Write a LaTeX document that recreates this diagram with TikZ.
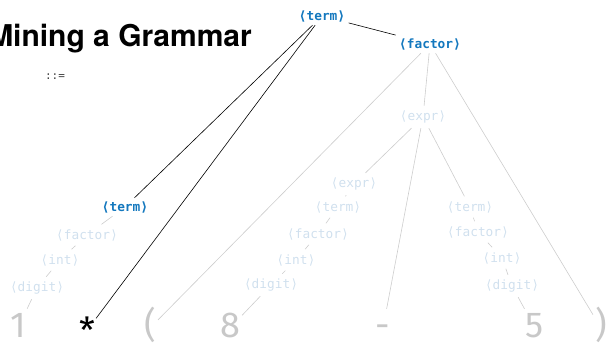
\documentclass[tikz,border=0pt]{standalone}
\usepackage{fontspec}
\setmainfont{Fira Sans}
\newfontfamily\labfont{DejaVu Sans Mono}
\newfontfamily\titlefont{TeX Gyre Heros}
\newfontfamily\tokfont{Fira Sans}
\definecolor{nblue}{RGB}{20,120,190}
\definecolor{nfaint}{RGB}{208,224,238}
\definecolor{lfaint}{RGB}{205,205,205}
\definecolor{tgrey}{RGB}{200,200,200}
\begin{document}
\begin{tikzpicture}[x=1pt,y=-1pt,
  lab/.style={font=\labfont\fontsize{12.8}{14}\selectfont, inner sep=1.5pt, outer sep=2pt},
  hot/.style={lab, text=nblue, font=\labfont\bfseries\fontsize{12.8}{14}\selectfont},
  dim/.style={lab, text=nfaint, outer sep=3.5pt},
  tok/.style={font=\tokfont\fontsize{36}{40}\selectfont, text=tgrey, anchor=base, inner sep=2pt, text height=27pt, text depth=7pt},
  hotline/.style={draw=black, line width=0.6pt},
  dimline/.style={draw=lfaint, line width=0.6pt}]
\useasboundingbox (0,0) rectangle (611,347);
\node[anchor=base east, inner sep=0pt, font=\titlefont\bfseries\fontsize{30}{34}\selectfont] (title) at (252,47) {Mining a Grammar};
\node[font=\labfont\fontsize{11}{12}\selectfont, text=black!75] (def) at (55,77) {::=};
% top nodes
\node[hot] (t0) at (322,16) {⟨term⟩};
\node[hot] (f0) at (430,44) {⟨factor⟩};
\node[hot] (tL) at (125,207) {⟨term⟩};
\node[dim] (fL) at (87,235) {⟨factor⟩};
\node[dim] (iL) at (60,260) {⟨int⟩};
\node[dim] (dL) at (37,288) {⟨digit⟩};
\node[dim] (e1) at (423,117) {⟨expr⟩};
\node[dim] (e2) at (354,184) {⟨expr⟩};
\node[dim] (tM) at (338,207) {⟨term⟩};
\node[dim] (fM) at (318,234) {⟨factor⟩};
\node[dim] (iM) at (296,260) {⟨int⟩};
\node[dim] (dM) at (271,285) {⟨digit⟩};
\node[dim] (tR) at (470,207) {⟨term⟩};
\node[dim] (fR) at (478,232) {⟨factor⟩};
\node[dim] (iR) at (502,258) {⟨int⟩};
\node[dim] (dR) at (512,286) {⟨digit⟩};
% tokens
\node[tok] (k1) at (18,338) {1};
\node[tok, text=black, text depth=0pt, inner sep=1pt] (kstar) at (87,344) {*};
\node[tok] (klp) at (150,338) {(};
\node[tok] (k8) at (230,338) {8};
\node[tok] (kmin) at (383,338) {-};
\node[tok] (k5) at (535,338) {5};
\node[tok] (krp) at (601,338) {)};
% connectors
\draw[hotline] (t0) -- (f0);
\draw[hotline] (t0) -- (tL);
\draw[hotline] (t0) -- (kstar);
\draw[dimline] (f0) -- (klp);
\draw[dimline] (f0) -- (e1);
\draw[dimline] (f0) -- (krp);
\draw[dimline] (e1) -- (e2);
\draw[dimline] (e1) -- (kmin);
\draw[dimline] (e1) -- (tR);
\draw[dimline] (tL) -- (fL);
\draw[dimline] (fL) -- (iL);
\draw[dimline] (iL) -- (dL);
\draw[dimline] (dL) -- (k1);
\draw[dimline] (e2) -- (tM);
\draw[dimline] (tM) -- (fM);
\draw[dimline] (fM) -- (iM);
\draw[dimline] (iM) -- (dM);
\draw[dimline] (dM) -- (k8);
\draw[dimline] (tR) -- (fR);
\draw[dimline] (fR) -- (iR);
\draw[dimline] (iR) -- (dR);
\draw[dimline] (dR) -- (k5);
\end{tikzpicture}
\end{document}
